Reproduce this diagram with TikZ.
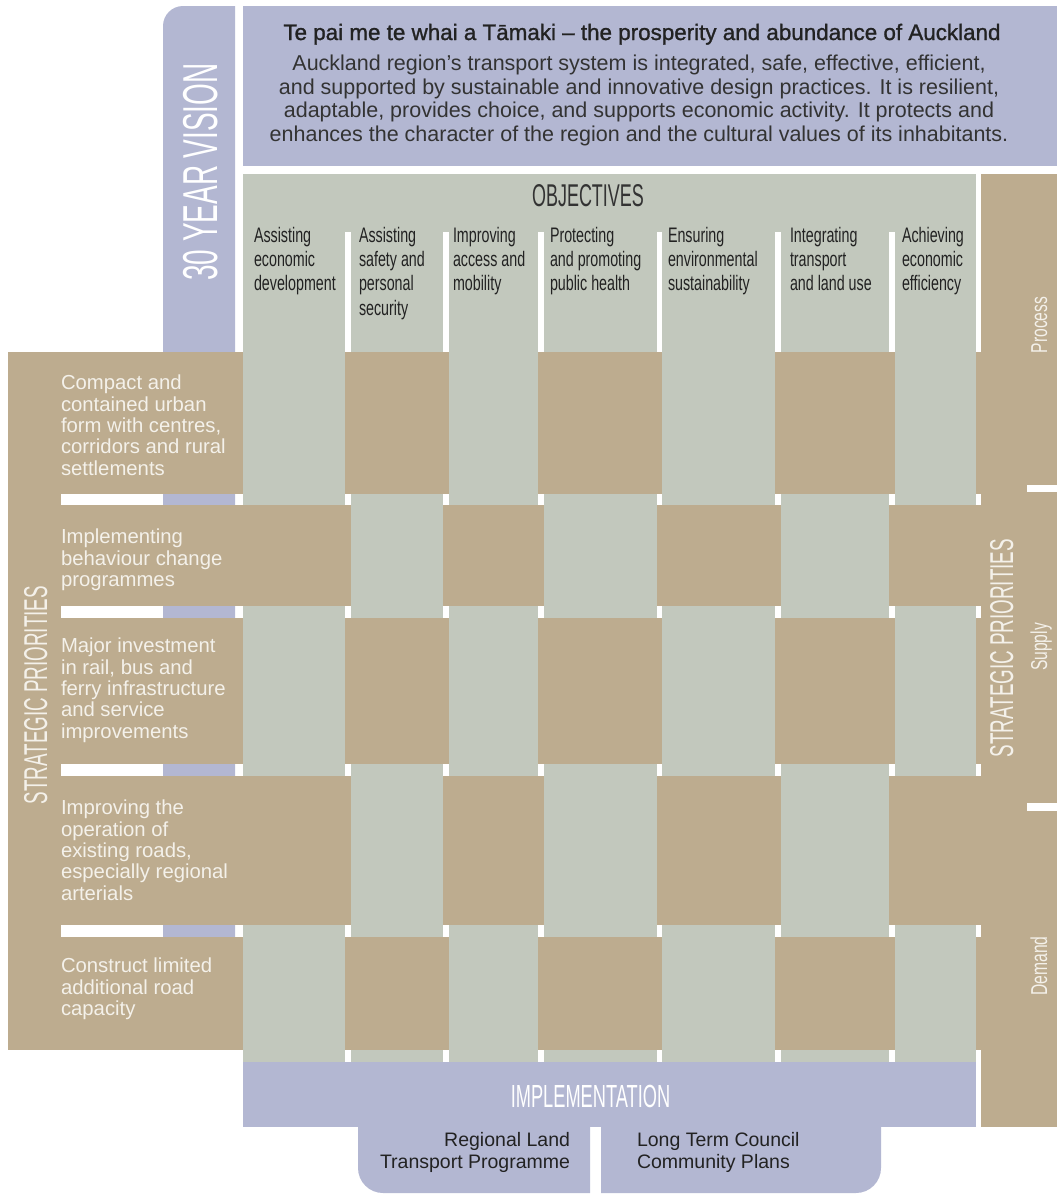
\documentclass[tikz,border=0pt]{standalone}
\usepackage{fontspec}
\setmainfont{Liberation Sans}
\newfontfamily\hdrfont[FakeStretch=0.57]{Liberation Sans}
\newfontfamily\lblfont[FakeStretch=0.68]{Liberation Sans}
\newfontfamily\titlefont[FakeBold=1.2]{Liberation Sans}
\definecolor{lav}{HTML}{B3B7D2}
\definecolor{sage}{HTML}{C2C8BD}
\definecolor{prtan}{HTML}{BDAC8F}
\definecolor{offwhite}{HTML}{F4F1EA}
\definecolor{ink}{HTML}{222222}
\definecolor{inkgrey}{HTML}{333333}
\tikzset{
  txt/.style={inner sep=0pt, outer sep=0pt},
  hdrw/.style={txt, text=white},
  rowtxt/.style={txt, anchor=north west, align=left, text=offwhite,
    font=\fontsize{20.3}{21.4}\selectfont},
  objtxt/.style={txt, anchor=north west, align=left, text=ink,
    font=\lblfont\fontsize{21}{24.3}\selectfont},
  sidelbl/.style={txt, rotate=90, anchor=base, text=offwhite,
    font=\lblfont\fontsize{23}{23}\selectfont},
  sptxt/.style={txt, rotate=90, anchor=base, text=offwhite,
    font=\hdrfont\fontsize{33}{33}\selectfont},
  impltxt/.style={txt, text=ink, font=\fontsize{19.5}{22}\selectfont}
}
\begin{document}
\begin{tikzpicture}[x=1pt,y=-1pt]
\useasboundingbox (0,0) rectangle (1057,1195);
% vision band
\fill[lav] (163,1040) -- (163,26) arc[start angle=180,end angle=270,radius=20] -- (235,6) -- (235,1040) -- cycle;
% vision box
\fill[lav] (243,6) rectangle (1057,166);
% objectives header
\fill[sage] (243,174) rectangle (976,232);
% columns
\foreach \a/\b in {243/345,351/443,449/538,544/657,662/775,781/889,895/976}
  \fill[sage] (\a,174) rectangle (\b,1062);
% right strip
\fill[prtan] (981,174) rectangle (1057,1127);
\fill[white] (1027,485) rectangle (1057,492);
\fill[white] (1027,803) rectangle (1057,811);
% left strip
\fill[prtan] (8,352) rectangle (61,1050);
% rows
\foreach \t/\u in {352/494,505/606,618/764,776/925,937/1050}
  \fill[prtan] (61,\t) rectangle (981,\u);
% columns over rows
\foreach \t/\u in {352/494,618/764,937/1050}
  \foreach \a/\b in {243/345,449/538,662/775,895/976}
    \fill[sage] (\a,\t) rectangle (\b,\u);
\foreach \t/\u in {505/606,776/925}
  \foreach \a/\b in {351/443,544/657,781/889}
    \fill[sage] (\a,\t) rectangle (\b,\u);
% implementation
\fill[lav] (243,1062) rectangle (976,1127);
\fill[lav] (358,1120) -- (358,1168) arc[start angle=180,end angle=90,radius=25] -- (590,1193) -- (590,1120) -- cycle;
\fill[lav] (601,1120) -- (601,1193) -- (856,1193) arc[start angle=90,end angle=0,radius=25] -- (881,1120) -- cycle;

% texts
\node[txt, anchor=base, text=ink, font=\titlefont\fontsize{22.4}{22.4}\selectfont] (title) at (642,40)
  {Te pai me te whai a Tāmaki – the prosperity and abundance of Auckland};
\node[txt, anchor=north, align=center, text=inkgrey, font=\fontsize{21.5}{23.5}\selectfont] (vision) at (639,55)
  {Auckland region’s transport system is integrated, safe, effective, efficient,\\
   and supported by sustainable and innovative design practices. It is resilient,\\
   adaptable, provides choice, and supports economic activity. It protects and\\
   enhances the character of the region and the cultural values of its inhabitants.};
\node[hdrw, rotate=90, anchor=base, font=\hdrfont\fontsize{49}{49}\selectfont] (vis30) at (217,172) {30 YEAR VISION};
\node[txt, anchor=base, text=inkgrey, font=\hdrfont\fontsize{31.5}{31.5}\selectfont] (obj) at (588,206) {OBJECTIVES};

\node[objtxt] (o1) at (254,227) {Assisting\\economic\\development};
\node[objtxt] (o2) at (359,227) {Assisting\\safety and\\personal\\security};
\node[objtxt] (o3) at (453,227) {Improving\\access and\\mobility};
\node[objtxt] (o4) at (550,227) {Protecting\\and promoting\\public health};
\node[objtxt] (o5) at (668,227) {Ensuring\\environmental\\sustainability};
\node[objtxt] (o6) at (790,227) {Integrating\\transport\\and land use};
\node[objtxt] (o7) at (902,227) {Achieving\\economic\\efficiency};

\node[rowtxt] (r1) at (61,375) {Compact and\\contained urban\\form with centres,\\corridors and rural\\settlements};
\node[rowtxt] (r2) at (61,529) {Implementing\\behaviour change\\programmes};
\node[rowtxt] (r3) at (61,638) {Major investment\\in rail, bus and\\ferry infrastructure\\and service\\improvements};
\node[rowtxt] (r4) at (61,800) {Improving the\\operation of\\existing roads,\\especially regional\\arterials};
\node[rowtxt] (r5) at (61,958) {Construct limited\\additional road\\capacity};

\node[sptxt] (spl) at (47,695) {STRATEGIC PRIORITIES};
\node[sptxt] (spr) at (1013,648) {STRATEGIC PRIORITIES};
\node[sidelbl] (proc) at (1047,325) {Process};
\node[sidelbl] (supp) at (1047,647) {Supply};
\node[sidelbl] (dem) at (1047,966) {Demand};

\node[hdrw, anchor=base, font=\hdrfont\fontsize{32}{32}\selectfont] (impl) at (590.5,1107) {IMPLEMENTATION};
\node[impltxt, anchor=north east, align=right] (rltp) at (570,1132) {Regional Land\\Transport Programme};
\node[impltxt, anchor=north west, align=left] (ltccp) at (637,1132) {Long Term Council\\Community Plans};
\end{tikzpicture}
\end{document}
